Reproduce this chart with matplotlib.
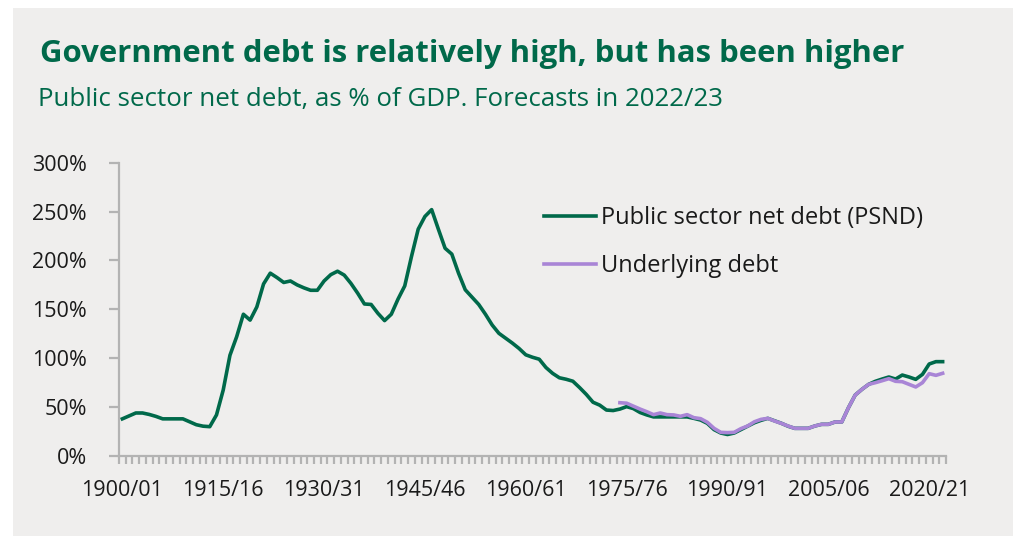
import matplotlib
matplotlib.use("Agg")
import matplotlib.pyplot as plt
from matplotlib.patches import Rectangle
import numpy as np

# ---- data ----
start_year = 1900
psnd = [38, 41, 44, 44, 42.5, 40.5, 38, 38, 38, 38,
        35, 32, 30.5, 30, 42, 67.5, 103, 122, 145, 139,
        152.5, 176, 187, 182.5, 177.5, 179, 175, 172, 169.5, 169.5,
        179, 185.5, 189, 185, 176.5, 166.5, 155.5, 155, 146, 138.5,
        145, 160.5, 174, 204, 232, 245, 252, 232, 212.5, 206.5,
        187, 170, 162.5, 155, 145, 134, 125.5, 120.5, 115.5, 110,
        103.5, 101, 99, 90.5, 84.5, 80, 78.5, 76.5, 70, 63,
        55, 52, 47, 46.5, 48, 50.5, 48.5, 44.5, 42, 40,
        40, 40, 40, 40, 40, 38.5, 36.8, 33.4, 27, 23.5,
        22, 23.5, 27, 30.5, 34, 36.5, 38.5, 36, 33.5, 30.5,
        28.3, 28.3, 28.3, 30.7, 32.4, 32.4, 34.8, 34.8, 49.5, 62.4,
        68.2, 73.3, 76.4, 78.7, 80.8, 78.7, 82.8, 80.8, 78.4, 83.5,
        94.1, 96.5, 96.5]
underlying_start = 1974
underlying = [54.5, 54, 51, 48, 45.3, 42.3, 44, 42.3, 42, 40.6,
              42.3, 39.2, 38.2, 34.5, 28.3, 24.2, 23.9, 24.2, 28, 30.7,
              35, 37.5, 38.5, 35.8, 33.4, 30.7, 28.3, 28.3, 28.3, 30.7,
              32.4, 32.4, 34.8, 34.8, 49.5, 62.4, 68.2, 73.3, 75, 77,
              79.1, 76.4, 76, 73.3, 70.6, 75, 84.2, 82.5, 84.6]
label_years = [1900, 1915, 1930, 1945, 1960, 1975, 1990, 2005, 2020]
y_ticks = [0, 50, 100, 150, 200, 250, 300]

# ---- style ----
GREEN = "#00694A"
PURPLE = "#A985D6"
PANEL = "#EFEEED"
AXIS = "#B3B3B3"
TXT = "#1A1A1A"
FONT = ["Open Sans", "DejaVu Sans"]

W, H = 1015, 536
fig = plt.figure(figsize=(W / 100, H / 100), dpi=100)
fig.patch.set_facecolor("white")
fig.patches.append(Rectangle((13 / W, 0), 1000 / W, 1 - 7.5 / H,
                             transform=fig.transFigure, facecolor=PANEL,
                             edgecolor="none", zorder=-5))

ax = fig.add_axes([119 / W, 1 - 456 / H, (946 - 119) / W, (456 - 162.7) / H])
ax.set_zorder(2)
ax.set_facecolor("none")

x_psnd = np.arange(len(psnd))
x_und = np.arange(len(underlying)) + (underlying_start - start_year)
ax.plot(x_psnd, psnd, color=GREEN, lw=2.6,
        label="Public sector net debt (PSND)", zorder=3)
ax.plot(x_und, underlying, color=PURPLE, lw=2.6,
        label="Underlying debt", zorder=4)

n = len(psnd)
ax.set_xlim(-0.5, n - 0.5)
ax.set_ylim(0, 300)

for s in ["top", "right"]:
    ax.spines[s].set_visible(False)
for s in ["left", "bottom"]:
    ax.spines[s].set_color(AXIS)
    ax.spines[s].set_linewidth(1.6)

ax.set_yticks(y_ticks)
ax.set_yticklabels([f"{v}%" for v in y_ticks])
ax.tick_params(axis="y", length=7, width=1.6, color=AXIS, pad=16,
               labelsize=15.5, labelcolor=TXT)

ax.set_xticks(np.arange(-0.5, n, 1.0))
ax.set_xticklabels([])
ax.tick_params(axis="x", which="major", direction="out", length=6,
               width=1.6, color=AXIS)
lab_pos = [y - start_year for y in label_years]
ax.set_xticks(lab_pos, minor=True)
ax.set_xticklabels([f"{y}/{(y + 1) % 100:02d}" for y in label_years],
                   minor=True)
ax.tick_params(axis="x", which="minor", length=0, pad=17,
               labelsize=15.5, labelcolor=TXT)
for t in ax.get_xticklabels(minor=True) + ax.get_yticklabels():
    t.set_family(FONT)

leg = ax.legend(loc="upper left", bbox_to_anchor=(0.502, 0.885),
                frameon=False, handlelength=2.2, handletextpad=0.25,
                labelspacing=1.03, borderaxespad=0,
                prop={"family": FONT, "size": 17})
for t in leg.get_texts():
    t.set_color(TXT)

fig.text(40 / W, 1 - 62 / H, "Government debt is relatively high, but has been higher",
         family=FONT, fontsize=22.4, fontweight="bold", color=GREEN,
         ha="left", va="baseline")
fig.text(38 / W, 1 - 106 / H, "Public sector net debt, as % of GDP. Forecasts in 2022/23",
         family=FONT, fontsize=18.6, color=GREEN, ha="left", va="baseline")

fig.savefig("out.png", dpi=100, facecolor="white")
